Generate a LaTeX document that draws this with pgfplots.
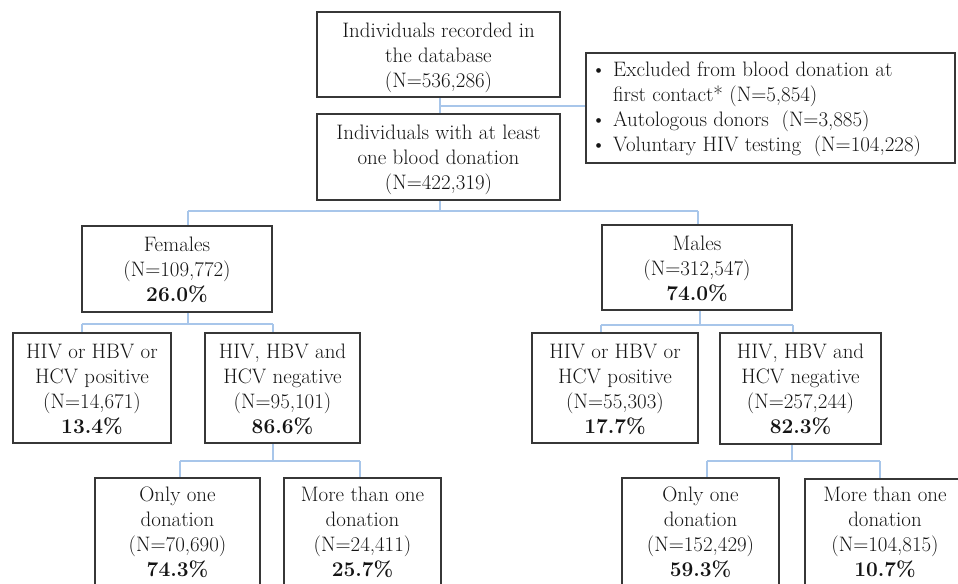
\documentclass[border=0pt]{standalone}
\usepackage{fontspec}
\usepackage{pgfplots}
\pgfplotsset{compat=1.18}
\definecolor{conn}{RGB}{168,198,234}
\definecolor{boxc}{RGB}{55,55,55}
\definecolor{txt}{RGB}{20,20,20}
\tikzset{lbl/.style={text=txt, align=center, font=\fontsize{21}{25}\selectfont, inner sep=0pt}}
\newcommand{\bx}[4]{\addplot[draw=boxc, line width=1.6bp, mark=none] coordinates {(#1,#3) (#2,#3) (#2,#4) (#1,#4)} -- cycle;}
\newcommand{\cn}[4]{\addplot[draw=conn, line width=1.4bp, mark=none] coordinates {(#1,#2) (#3,#4)};}
\begin{document}
\begin{tikzpicture}
\begin{axis}[
  width=958bp, height=584bp, scale only axis,
  xmin=0, xmax=958, ymin=0, ymax=584, y dir=reverse,
  axis lines=none, xtick=\empty, ytick=\empty, clip=true,
]
% connectors
\cn{440}{97}{440}{114}
\cn{440}{106}{586}{106}
\cn{440}{200}{440}{211}
\cn{188}{211}{698}{211}
\cn{188}{211}{188}{226}
\cn{698}{211}{698}{225}
\cn{188}{312}{188}{324}
\cn{82}{324}{273}{324}
\cn{82}{324}{82}{333}
\cn{273}{324}{273}{333}
\cn{700}{310}{700}{325}
\cn{601}{325}{793}{325}
\cn{601}{325}{601}{333}
\cn{793}{325}{793}{333}
\cn{273}{443}{273}{461}
\cn{180}{461}{360}{461}
\cn{180}{461}{180}{478}
\cn{360}{461}{360}{478}
\cn{792}{444}{792}{461}
\cn{707}{461}{880}{461}
\cn{707}{461}{707}{478}
\cn{880}{461}{880}{479}
% boxes
\bx{317}{560}{12}{97}
\bx{317}{560}{114}{200}
\bx{586}{955}{53}{163}
\bx{82}{272}{226}{312}
\bx{602}{792}{225}{310}
\bx{13}{171}{333}{443}
\bx{205}{360}{333}{443}
\bx{532}{698}{333}{443}
\bx{720}{881}{333}{444}
\bx{95}{260}{478}{592}
\bx{284}{441}{478}{592}
\bx{622}{779}{478}{592}
\bx{805}{965}{479}{592}
% texts
\node[lbl] at (axis cs:438.5,58) {Individuals recorded in\\the database\\(N=536,286)};
\node[lbl] at (axis cs:438.5,160) {Individuals with at least\\one blood donation\\(N=422,319)};
\node[lbl, align=left, anchor=west] at (axis cs:591,109) {\textbullet\,\,Excluded from blood donation at\\\hphantom{\textbullet\,\,}first contact* (N=5,854)\\\textbullet\,\,Autologous donors\ \ (N=3,885)\\\textbullet\,\,Voluntary HIV testing\ \ (N=104,228)};
\node[lbl] at (axis cs:177,270) {Females\\(N=109,772)\\\textbf{26.0\%}};
\node[lbl] at (axis cs:697,269) {Males\\(N=312,547)\\\textbf{74.0\%}};
\node[lbl] at (axis cs:92,389.5) {HIV or HBV or\\HCV positive\\(N=14,671)\\\textbf{13.4\%}};
\node[lbl] at (axis cs:282.5,389.5) {HIV, HBV and\\HCV negative\\(N=95,101)\\\textbf{86.6\%}};
\node[lbl] at (axis cs:615,389.5) {HIV or HBV or\\HCV positive\\(N=55,303)\\\textbf{17.7\%}};
\node[lbl] at (axis cs:800.5,389.5) {HIV, HBV and\\HCV negative\\(N=257,244)\\\textbf{82.3\%}};
\node[lbl] at (axis cs:177.5,532.5) {Only one\\donation\\(N=70,690)\\\textbf{74.3\%}};
\node[lbl] at (axis cs:362.5,532.5) {More than one\\donation\\(N=24,411)\\\textbf{25.7\%}};
\node[lbl] at (axis cs:700.5,532.5) {Only one\\donation\\(N=152,429)\\\textbf{59.3\%}};
\node[lbl] at (axis cs:885,532.5) {More than one\\donation\\(N=104,815)\\\textbf{10.7\%}};
\end{axis}
\pgfresetboundingbox
\path[use as bounding box] (current axis.south west) rectangle (current axis.north east);
\end{tikzpicture}
\end{document}
